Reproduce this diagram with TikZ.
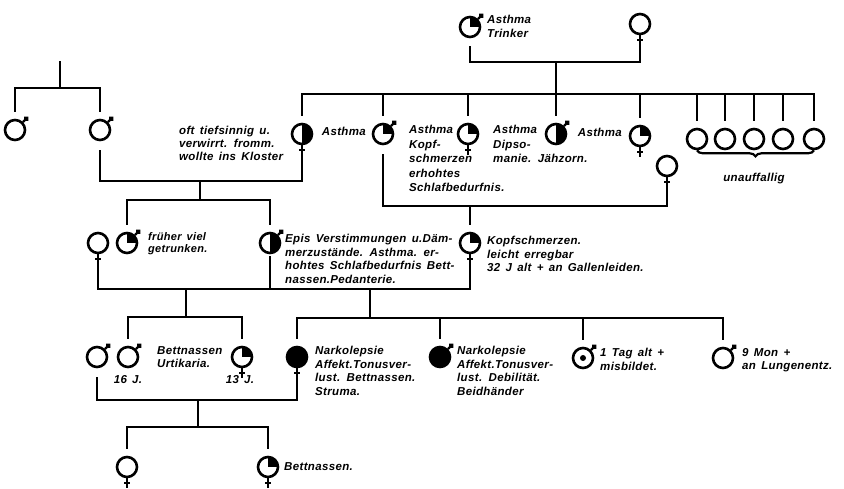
\documentclass[tikz,border=0pt]{standalone}
\usepackage{fontspec}
\setmainfont{Liberation Sans}[LetterSpace=3.0, WordSpace=1.5]
\usetikzlibrary{arrows.meta,positioning,decorations.pathreplacing}

\begin{document}
\begin{tikzpicture}[x=1pt, y=-1pt]
\tikzset{
    person/.style={circle, draw, line width=2.6pt, minimum size=20pt, inner sep=0pt},
    sexmark/.style={line width=2.2pt},
    male/.style={person, append after command={(\tikzlastnode.45) edge[sexmark, -{Circle[length=5pt]}] ++(45:7pt)}},
    female/.style={person, append after command={(\tikzlastnode.south) edge[sexmark] ++(0,10) (\tikzlastnode.south) ++(-3,5) edge[sexmark] ++(6,0)}},
    quarter/.style={path picture={\fill (path picture bounding box.center) rectangle (path picture bounding box.north east);}},
    half/.style={path picture={\fill (path picture bounding box.south) rectangle (path picture bounding box.north east);}},
    full/.style={fill=black},
    spot/.style={path picture={\fill (path picture bounding box.center) circle[radius=3pt];}},
    link/.style={line width=2.8pt, line cap=rect},
    lbl/.style={inner sep=0pt, align=left, font=\bfseries\itshape\fontsize{11.5}{13.5}\selectfont},
    small/.style={font=\bfseries\itshape\fontsize{11}{12}\selectfont}
}
\useasboundingbox (0,0) rectangle (844,489);

% generation I
\node[male, quarter] (grandfather) at (470,27) {};
\node[female] (grandmother) at (640,24) {};
\node[lbl, anchor=west] (label1) at (487,26.5) {Asthma\\Trinker};

% father's side
\coordinate (oldline) at (60,62);
\coordinate (row1) at (60,88);
\node[male] (brother1) at (15,130) {};
\node[male] (husband1) at (100,130) {};

% generation II
\node[female, half] (daughter1) at (302,134) {};
\node[male, quarter] (son1) at (383,134) {};
\node[female, quarter] (daughter2) at (468,134) {};
\node[male, half] (son2) at (556,134) {};
\node[female, quarter] (daughter3) at (640,136) {};
\foreach \i/\x in {1/697,2/725,3/754,4/783,5/814}
    \node[person] (plain\i) at (\x,139) {};
\node[female] (wife1) at (667,166) {};

\node[lbl, anchor=north west, font=\bfseries\itshape\fontsize{11.5}{13}\selectfont] (label2) at (179,126) {oft tiefsinnig u.\\verwirrt. fromm.\\wollte ins Kloster};
\node[lbl, anchor=east] (label3) at (366,131) {Asthma};
\node[lbl, anchor=north west, font=\bfseries\itshape\fontsize{11.5}{14.5}\selectfont] (label4) at (409,125) {Asthma\\Kopf-\\schmerzen\\erhohtes\\Schlafbedurfnis.};
\node[lbl, anchor=north west, font=\bfseries\itshape\fontsize{11.5}{14.5}\selectfont] (label5) at (493,125) {Asthma\\Dipso-\\manie. Jähzorn.};
\node[lbl, anchor=east] (label6) at (622,132) {Asthma};
\draw[decorate, decoration={brace, mirror, amplitude=6pt}, line width=2.2pt] (plain1.south) -- (plain5.south);
\node[lbl, below=23pt of plain3] (label7) {unauffallig};

% generation III
\node[female] (wife2) at (98,243) {};
\node[male, quarter] (son3) at (127,243) {};
\node[male, half] (son4) at (270,243) {};
\node[female, quarter] (daughter4) at (470,243) {};

\node[lbl, small, anchor=west] (label8) at (148,244) {früher viel\\getrunken.};
\node[lbl, anchor=north west] (label9) at (285,234) {Epis Verstimmungen u.Däm-\\merzustände. Asthma. er-\\hohtes Schlafbedurfnis Bett-\\nassen.Pedanterie.};
\node[lbl, anchor=north west] (label10) at (487,236) {Kopfschmerzen.\\leicht erregbar\\32 J alt + an Gallenleiden.};

% generation IV
\node[male] (husband2) at (97,357) {};
\node[male] (son5) at (128,357) {};
\node[female, quarter] (daughter5) at (242,357) {};
\node[female, full] (daughter6) at (297,357) {};
\node[male, full] (son6) at (440,357) {};
\node[male, spot] (son7) at (583,358) {};
\node[male] (son8) at (723,358) {};

\node[lbl, below=7pt of son5] (label11) {16 J.};
\node[lbl, anchor=north west] (label12) at (157,346) {Bettnassen\\Urtikaria.};
\node[lbl] (label13) at (240,380) {13 J.};
\node[lbl, anchor=north west] (label14) at (315,346) {Narkolepsie\\Affekt.Tonusver-\\lust. Bettnassen.\\Struma.};
\node[lbl, anchor=north west] (label15) at (457,346) {Narkolepsie\\Affekt.Tonusver-\\lust. Debilität.\\Beidhänder};
\node[lbl, anchor=north west] (label16) at (600,348) {1 Tag alt +\\misbildet.};
\node[lbl, anchor=north west] (label17) at (742,348) {9 Mon +\\an Lungenentz.};

% generation V
\node[female] (granddaughter1) at (127,467) {};
\node[female, quarter] (granddaughter2) at (268,467) {};
\node[lbl, anchor=west] (label18) at (284,467) {Bettnassen.};

% lines of descent
\coordinate (mar1) at (556,62);
\coordinate (row2) at (556,94);
\draw[link, shorten <=9pt] (grandfather.south) |- (mar1) -| (grandmother.south);
\draw[link, shorten >=8pt] (mar1) -- (son2.north);
\draw[link] (daughter1.north |- row2) -- (plain5.north |- row2);
\foreach \n in {daughter1,son1,daughter2,daughter3,plain1,plain2,plain3,plain4,plain5}
    \draw[link, shorten >=8pt] (\n.north |- row2) -- (\n.north);

\draw[link] (oldline) -- (row1);
\draw[link] (brother1.north |- row1) -- (husband1.north |- row1);
\foreach \n in {brother1,husband1}
    \draw[link, shorten >=8pt] (\n.north |- row1) -- (\n.north);

\coordinate (mar2) at (200,181);
\coordinate (row3) at (200,200);
\draw[link, shorten <=10pt] (husband1.south) |- (mar2) -| (daughter1.south);
\draw[link] (mar2) -- (row3);
\draw[link] (son3.north |- row3) -- (son4.north |- row3);
\foreach \n in {son3,son4}
    \draw[link, shorten >=8pt] (\n.north |- row3) -- (\n.north);

\coordinate (mar3) at (470,206);
\draw[link, shorten <=10pt] (son1.south) |- (mar3) -| (wife1.south);
\draw[link, shorten >=8pt] (mar3) -- (daughter4.north);

\coordinate (mar4) at (186,289);
\coordinate (mar5) at (370,289);
\coordinate (row4a) at (186,317);
\coordinate (row4b) at (370,318);
\draw[link] (wife2.south) |- (mar4) -- (mar5) -| (daughter4.south);
\draw[link, shorten <=3pt] (son4.south) -- (son4.south |- mar4);
\draw[link] (mar4) -- (row4a);
\draw[link] (son5.north |- row4a) -- (daughter5.north |- row4a);
\foreach \n in {son5,daughter5}
    \draw[link, shorten >=8pt] (\n.north |- row4a) -- (\n.north);
\draw[link] (mar5) -- (row4b);
\draw[link] (daughter6.north |- row4b) -- (son8.north |- row4b);
\foreach \n in {daughter6,son6,son7,son8}
    \draw[link, shorten >=8pt] (\n.north |- row4b) -- (\n.north);

\coordinate (mar6) at (198,400);
\coordinate (row5) at (198,427);
\draw[link, shorten <=10pt] (husband2.south) |- (mar6) -| (daughter6.south);
\draw[link] (mar6) -- (row5);
\draw[link] (granddaughter1.north |- row5) -- (granddaughter2.north |- row5);
\foreach \n in {granddaughter1,granddaughter2}
    \draw[link, shorten >=8pt] (\n.north |- row5) -- (\n.north);

\end{tikzpicture}
\end{document}
